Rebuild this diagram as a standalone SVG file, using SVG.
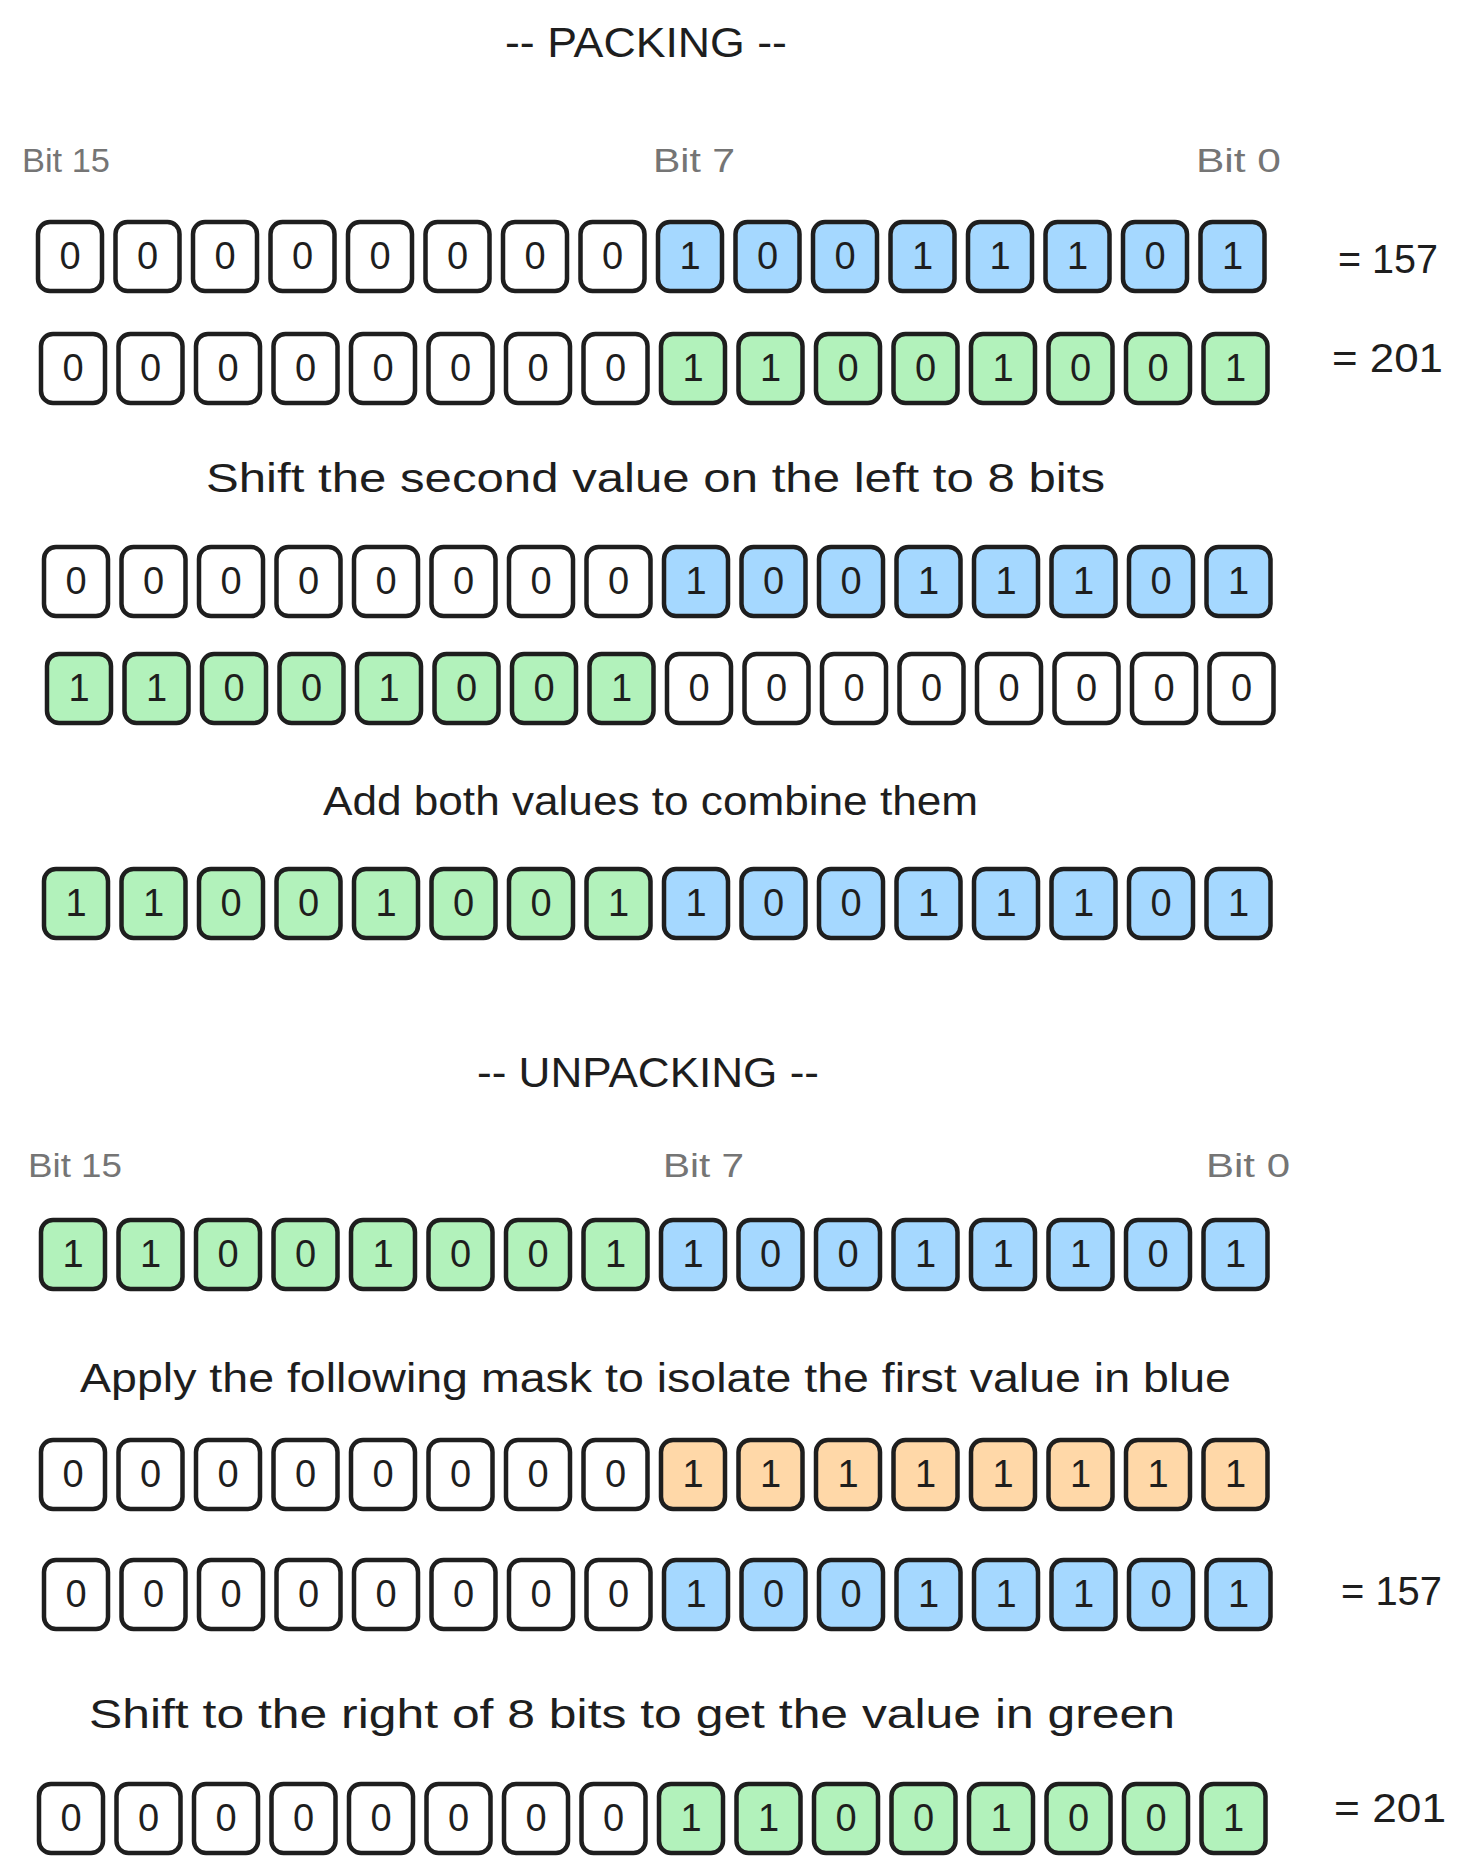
<svg xmlns="http://www.w3.org/2000/svg" width="1461" height="1874" viewBox="0 0 1461 1874">
<style>
text{font-family:"Liberation Sans",Arial,sans-serif;fill:#1e1e1e}
.cell rect{stroke:#1e1e1e;stroke-width:4.5}
.w{fill:#ffffff}.b{fill:#a5d8ff}.g{fill:#b2f2bb}.o{fill:#ffd8a8}
.cell text{font-size:38px;text-anchor:middle}
.h{font-size:42px}
.s{font-size:40px}
.bit{font-size:34px;fill:#757575}
.eq{font-size:40px}
</style>
<rect width="1461" height="1874" fill="#ffffff"/>
<g id="titles">
<text id="t-packing" class="h" x="505" y="57" textLength="282" lengthAdjust="spacingAndGlyphs">-- PACKING --</text>
<text id="t-unpacking" class="h" x="477" y="1087" textLength="342" lengthAdjust="spacingAndGlyphs">-- UNPACKING --</text>
<text id="t-shift1" class="s" x="206" y="492" textLength="899" lengthAdjust="spacingAndGlyphs">Shift the second value on the left to 8 bits</text>
<text id="t-add" class="s" x="323" y="815" textLength="655" lengthAdjust="spacingAndGlyphs">Add both values to combine them</text>
<text id="t-apply" class="s" x="80" y="1392" textLength="1151" lengthAdjust="spacingAndGlyphs">Apply the following mask to isolate the first value in blue</text>
<text id="t-shift2" class="s" x="89" y="1728" textLength="1086" lengthAdjust="spacingAndGlyphs">Shift to the right of 8 bits to get the value in green</text>
</g>
<g id="bit-labels">
<text class="bit" x="22" y="172" textLength="88" lengthAdjust="spacingAndGlyphs">Bit 15</text>
<text class="bit" x="653" y="172" textLength="82" lengthAdjust="spacingAndGlyphs">Bit 7</text>
<text class="bit" x="1196" y="172" textLength="85" lengthAdjust="spacingAndGlyphs">Bit 0</text>
<text class="bit" x="28" y="1177" textLength="94" lengthAdjust="spacingAndGlyphs">Bit 15</text>
<text class="bit" x="663" y="1177" textLength="81" lengthAdjust="spacingAndGlyphs">Bit 7</text>
<text class="bit" x="1206" y="1177" textLength="84" lengthAdjust="spacingAndGlyphs">Bit 0</text>
</g>
<g id="values">
<text class="eq" x="1338" y="273" textLength="100" lengthAdjust="spacingAndGlyphs">= 157</text>
<text class="eq" x="1332" y="372" textLength="111" lengthAdjust="spacingAndGlyphs">= 201</text>
<text class="eq" x="1341" y="1605" textLength="101" lengthAdjust="spacingAndGlyphs">= 157</text>
<text class="eq" x="1334" y="1822" textLength="112" lengthAdjust="spacingAndGlyphs">= 201</text>
</g>
<g id="connectors"></g>
<g id="row1" transform="translate(36 220)">
<g id="r1b15" class="cell" transform="translate(0 0)"><rect class="w" x="2" y="2" width="64" height="69" rx="12"/><text x="34" y="49">0</text></g>
<g id="r1b14" class="cell" transform="translate(77.5 0)"><rect class="w" x="2" y="2" width="64" height="69" rx="12"/><text x="34" y="49">0</text></g>
<g id="r1b13" class="cell" transform="translate(155 0)"><rect class="w" x="2" y="2" width="64" height="69" rx="12"/><text x="34" y="49">0</text></g>
<g id="r1b12" class="cell" transform="translate(232.5 0)"><rect class="w" x="2" y="2" width="64" height="69" rx="12"/><text x="34" y="49">0</text></g>
<g id="r1b11" class="cell" transform="translate(310 0)"><rect class="w" x="2" y="2" width="64" height="69" rx="12"/><text x="34" y="49">0</text></g>
<g id="r1b10" class="cell" transform="translate(387.5 0)"><rect class="w" x="2" y="2" width="64" height="69" rx="12"/><text x="34" y="49">0</text></g>
<g id="r1b9" class="cell" transform="translate(465 0)"><rect class="w" x="2" y="2" width="64" height="69" rx="12"/><text x="34" y="49">0</text></g>
<g id="r1b8" class="cell" transform="translate(542.5 0)"><rect class="w" x="2" y="2" width="64" height="69" rx="12"/><text x="34" y="49">0</text></g>
<g id="r1b7" class="cell" transform="translate(620 0)"><rect class="b" x="2" y="2" width="64" height="69" rx="12"/><text x="34" y="49">1</text></g>
<g id="r1b6" class="cell" transform="translate(697.5 0)"><rect class="b" x="2" y="2" width="64" height="69" rx="12"/><text x="34" y="49">0</text></g>
<g id="r1b5" class="cell" transform="translate(775 0)"><rect class="b" x="2" y="2" width="64" height="69" rx="12"/><text x="34" y="49">0</text></g>
<g id="r1b4" class="cell" transform="translate(852.5 0)"><rect class="b" x="2" y="2" width="64" height="69" rx="12"/><text x="34" y="49">1</text></g>
<g id="r1b3" class="cell" transform="translate(930 0)"><rect class="b" x="2" y="2" width="64" height="69" rx="12"/><text x="34" y="49">1</text></g>
<g id="r1b2" class="cell" transform="translate(1007.5 0)"><rect class="b" x="2" y="2" width="64" height="69" rx="12"/><text x="34" y="49">1</text></g>
<g id="r1b1" class="cell" transform="translate(1085 0)"><rect class="b" x="2" y="2" width="64" height="69" rx="12"/><text x="34" y="49">0</text></g>
<g id="r1b0" class="cell" transform="translate(1162.5 0)"><rect class="b" x="2" y="2" width="64" height="69" rx="12"/><text x="34" y="49">1</text></g>
</g>
<g id="row2" transform="translate(39 332)">
<g id="r2b15" class="cell" transform="translate(0 0)"><rect class="w" x="2" y="2" width="64" height="69" rx="12"/><text x="34" y="49">0</text></g>
<g id="r2b14" class="cell" transform="translate(77.5 0)"><rect class="w" x="2" y="2" width="64" height="69" rx="12"/><text x="34" y="49">0</text></g>
<g id="r2b13" class="cell" transform="translate(155 0)"><rect class="w" x="2" y="2" width="64" height="69" rx="12"/><text x="34" y="49">0</text></g>
<g id="r2b12" class="cell" transform="translate(232.5 0)"><rect class="w" x="2" y="2" width="64" height="69" rx="12"/><text x="34" y="49">0</text></g>
<g id="r2b11" class="cell" transform="translate(310 0)"><rect class="w" x="2" y="2" width="64" height="69" rx="12"/><text x="34" y="49">0</text></g>
<g id="r2b10" class="cell" transform="translate(387.5 0)"><rect class="w" x="2" y="2" width="64" height="69" rx="12"/><text x="34" y="49">0</text></g>
<g id="r2b9" class="cell" transform="translate(465 0)"><rect class="w" x="2" y="2" width="64" height="69" rx="12"/><text x="34" y="49">0</text></g>
<g id="r2b8" class="cell" transform="translate(542.5 0)"><rect class="w" x="2" y="2" width="64" height="69" rx="12"/><text x="34" y="49">0</text></g>
<g id="r2b7" class="cell" transform="translate(620 0)"><rect class="g" x="2" y="2" width="64" height="69" rx="12"/><text x="34" y="49">1</text></g>
<g id="r2b6" class="cell" transform="translate(697.5 0)"><rect class="g" x="2" y="2" width="64" height="69" rx="12"/><text x="34" y="49">1</text></g>
<g id="r2b5" class="cell" transform="translate(775 0)"><rect class="g" x="2" y="2" width="64" height="69" rx="12"/><text x="34" y="49">0</text></g>
<g id="r2b4" class="cell" transform="translate(852.5 0)"><rect class="g" x="2" y="2" width="64" height="69" rx="12"/><text x="34" y="49">0</text></g>
<g id="r2b3" class="cell" transform="translate(930 0)"><rect class="g" x="2" y="2" width="64" height="69" rx="12"/><text x="34" y="49">1</text></g>
<g id="r2b2" class="cell" transform="translate(1007.5 0)"><rect class="g" x="2" y="2" width="64" height="69" rx="12"/><text x="34" y="49">0</text></g>
<g id="r2b1" class="cell" transform="translate(1085 0)"><rect class="g" x="2" y="2" width="64" height="69" rx="12"/><text x="34" y="49">0</text></g>
<g id="r2b0" class="cell" transform="translate(1162.5 0)"><rect class="g" x="2" y="2" width="64" height="69" rx="12"/><text x="34" y="49">1</text></g>
</g>
<g id="row3" transform="translate(42 545)">
<g id="r3b15" class="cell" transform="translate(0 0)"><rect class="w" x="2" y="2" width="64" height="69" rx="12"/><text x="34" y="49">0</text></g>
<g id="r3b14" class="cell" transform="translate(77.5 0)"><rect class="w" x="2" y="2" width="64" height="69" rx="12"/><text x="34" y="49">0</text></g>
<g id="r3b13" class="cell" transform="translate(155 0)"><rect class="w" x="2" y="2" width="64" height="69" rx="12"/><text x="34" y="49">0</text></g>
<g id="r3b12" class="cell" transform="translate(232.5 0)"><rect class="w" x="2" y="2" width="64" height="69" rx="12"/><text x="34" y="49">0</text></g>
<g id="r3b11" class="cell" transform="translate(310 0)"><rect class="w" x="2" y="2" width="64" height="69" rx="12"/><text x="34" y="49">0</text></g>
<g id="r3b10" class="cell" transform="translate(387.5 0)"><rect class="w" x="2" y="2" width="64" height="69" rx="12"/><text x="34" y="49">0</text></g>
<g id="r3b9" class="cell" transform="translate(465 0)"><rect class="w" x="2" y="2" width="64" height="69" rx="12"/><text x="34" y="49">0</text></g>
<g id="r3b8" class="cell" transform="translate(542.5 0)"><rect class="w" x="2" y="2" width="64" height="69" rx="12"/><text x="34" y="49">0</text></g>
<g id="r3b7" class="cell" transform="translate(620 0)"><rect class="b" x="2" y="2" width="64" height="69" rx="12"/><text x="34" y="49">1</text></g>
<g id="r3b6" class="cell" transform="translate(697.5 0)"><rect class="b" x="2" y="2" width="64" height="69" rx="12"/><text x="34" y="49">0</text></g>
<g id="r3b5" class="cell" transform="translate(775 0)"><rect class="b" x="2" y="2" width="64" height="69" rx="12"/><text x="34" y="49">0</text></g>
<g id="r3b4" class="cell" transform="translate(852.5 0)"><rect class="b" x="2" y="2" width="64" height="69" rx="12"/><text x="34" y="49">1</text></g>
<g id="r3b3" class="cell" transform="translate(930 0)"><rect class="b" x="2" y="2" width="64" height="69" rx="12"/><text x="34" y="49">1</text></g>
<g id="r3b2" class="cell" transform="translate(1007.5 0)"><rect class="b" x="2" y="2" width="64" height="69" rx="12"/><text x="34" y="49">1</text></g>
<g id="r3b1" class="cell" transform="translate(1085 0)"><rect class="b" x="2" y="2" width="64" height="69" rx="12"/><text x="34" y="49">0</text></g>
<g id="r3b0" class="cell" transform="translate(1162.5 0)"><rect class="b" x="2" y="2" width="64" height="69" rx="12"/><text x="34" y="49">1</text></g>
</g>
<g id="row4" transform="translate(45 652)">
<g id="r4b15" class="cell" transform="translate(0 0)"><rect class="g" x="2" y="2" width="64" height="69" rx="12"/><text x="34" y="49">1</text></g>
<g id="r4b14" class="cell" transform="translate(77.5 0)"><rect class="g" x="2" y="2" width="64" height="69" rx="12"/><text x="34" y="49">1</text></g>
<g id="r4b13" class="cell" transform="translate(155 0)"><rect class="g" x="2" y="2" width="64" height="69" rx="12"/><text x="34" y="49">0</text></g>
<g id="r4b12" class="cell" transform="translate(232.5 0)"><rect class="g" x="2" y="2" width="64" height="69" rx="12"/><text x="34" y="49">0</text></g>
<g id="r4b11" class="cell" transform="translate(310 0)"><rect class="g" x="2" y="2" width="64" height="69" rx="12"/><text x="34" y="49">1</text></g>
<g id="r4b10" class="cell" transform="translate(387.5 0)"><rect class="g" x="2" y="2" width="64" height="69" rx="12"/><text x="34" y="49">0</text></g>
<g id="r4b9" class="cell" transform="translate(465 0)"><rect class="g" x="2" y="2" width="64" height="69" rx="12"/><text x="34" y="49">0</text></g>
<g id="r4b8" class="cell" transform="translate(542.5 0)"><rect class="g" x="2" y="2" width="64" height="69" rx="12"/><text x="34" y="49">1</text></g>
<g id="r4b7" class="cell" transform="translate(620 0)"><rect class="w" x="2" y="2" width="64" height="69" rx="12"/><text x="34" y="49">0</text></g>
<g id="r4b6" class="cell" transform="translate(697.5 0)"><rect class="w" x="2" y="2" width="64" height="69" rx="12"/><text x="34" y="49">0</text></g>
<g id="r4b5" class="cell" transform="translate(775 0)"><rect class="w" x="2" y="2" width="64" height="69" rx="12"/><text x="34" y="49">0</text></g>
<g id="r4b4" class="cell" transform="translate(852.5 0)"><rect class="w" x="2" y="2" width="64" height="69" rx="12"/><text x="34" y="49">0</text></g>
<g id="r4b3" class="cell" transform="translate(930 0)"><rect class="w" x="2" y="2" width="64" height="69" rx="12"/><text x="34" y="49">0</text></g>
<g id="r4b2" class="cell" transform="translate(1007.5 0)"><rect class="w" x="2" y="2" width="64" height="69" rx="12"/><text x="34" y="49">0</text></g>
<g id="r4b1" class="cell" transform="translate(1085 0)"><rect class="w" x="2" y="2" width="64" height="69" rx="12"/><text x="34" y="49">0</text></g>
<g id="r4b0" class="cell" transform="translate(1162.5 0)"><rect class="w" x="2" y="2" width="64" height="69" rx="12"/><text x="34" y="49">0</text></g>
</g>
<g id="row5" transform="translate(42 867)">
<g id="r5b15" class="cell" transform="translate(0 0)"><rect class="g" x="2" y="2" width="64" height="69" rx="12"/><text x="34" y="49">1</text></g>
<g id="r5b14" class="cell" transform="translate(77.5 0)"><rect class="g" x="2" y="2" width="64" height="69" rx="12"/><text x="34" y="49">1</text></g>
<g id="r5b13" class="cell" transform="translate(155 0)"><rect class="g" x="2" y="2" width="64" height="69" rx="12"/><text x="34" y="49">0</text></g>
<g id="r5b12" class="cell" transform="translate(232.5 0)"><rect class="g" x="2" y="2" width="64" height="69" rx="12"/><text x="34" y="49">0</text></g>
<g id="r5b11" class="cell" transform="translate(310 0)"><rect class="g" x="2" y="2" width="64" height="69" rx="12"/><text x="34" y="49">1</text></g>
<g id="r5b10" class="cell" transform="translate(387.5 0)"><rect class="g" x="2" y="2" width="64" height="69" rx="12"/><text x="34" y="49">0</text></g>
<g id="r5b9" class="cell" transform="translate(465 0)"><rect class="g" x="2" y="2" width="64" height="69" rx="12"/><text x="34" y="49">0</text></g>
<g id="r5b8" class="cell" transform="translate(542.5 0)"><rect class="g" x="2" y="2" width="64" height="69" rx="12"/><text x="34" y="49">1</text></g>
<g id="r5b7" class="cell" transform="translate(620 0)"><rect class="b" x="2" y="2" width="64" height="69" rx="12"/><text x="34" y="49">1</text></g>
<g id="r5b6" class="cell" transform="translate(697.5 0)"><rect class="b" x="2" y="2" width="64" height="69" rx="12"/><text x="34" y="49">0</text></g>
<g id="r5b5" class="cell" transform="translate(775 0)"><rect class="b" x="2" y="2" width="64" height="69" rx="12"/><text x="34" y="49">0</text></g>
<g id="r5b4" class="cell" transform="translate(852.5 0)"><rect class="b" x="2" y="2" width="64" height="69" rx="12"/><text x="34" y="49">1</text></g>
<g id="r5b3" class="cell" transform="translate(930 0)"><rect class="b" x="2" y="2" width="64" height="69" rx="12"/><text x="34" y="49">1</text></g>
<g id="r5b2" class="cell" transform="translate(1007.5 0)"><rect class="b" x="2" y="2" width="64" height="69" rx="12"/><text x="34" y="49">1</text></g>
<g id="r5b1" class="cell" transform="translate(1085 0)"><rect class="b" x="2" y="2" width="64" height="69" rx="12"/><text x="34" y="49">0</text></g>
<g id="r5b0" class="cell" transform="translate(1162.5 0)"><rect class="b" x="2" y="2" width="64" height="69" rx="12"/><text x="34" y="49">1</text></g>
</g>
<g id="row6" transform="translate(39 1218)">
<g id="r6b15" class="cell" transform="translate(0 0)"><rect class="g" x="2" y="2" width="64" height="69" rx="12"/><text x="34" y="49">1</text></g>
<g id="r6b14" class="cell" transform="translate(77.5 0)"><rect class="g" x="2" y="2" width="64" height="69" rx="12"/><text x="34" y="49">1</text></g>
<g id="r6b13" class="cell" transform="translate(155 0)"><rect class="g" x="2" y="2" width="64" height="69" rx="12"/><text x="34" y="49">0</text></g>
<g id="r6b12" class="cell" transform="translate(232.5 0)"><rect class="g" x="2" y="2" width="64" height="69" rx="12"/><text x="34" y="49">0</text></g>
<g id="r6b11" class="cell" transform="translate(310 0)"><rect class="g" x="2" y="2" width="64" height="69" rx="12"/><text x="34" y="49">1</text></g>
<g id="r6b10" class="cell" transform="translate(387.5 0)"><rect class="g" x="2" y="2" width="64" height="69" rx="12"/><text x="34" y="49">0</text></g>
<g id="r6b9" class="cell" transform="translate(465 0)"><rect class="g" x="2" y="2" width="64" height="69" rx="12"/><text x="34" y="49">0</text></g>
<g id="r6b8" class="cell" transform="translate(542.5 0)"><rect class="g" x="2" y="2" width="64" height="69" rx="12"/><text x="34" y="49">1</text></g>
<g id="r6b7" class="cell" transform="translate(620 0)"><rect class="b" x="2" y="2" width="64" height="69" rx="12"/><text x="34" y="49">1</text></g>
<g id="r6b6" class="cell" transform="translate(697.5 0)"><rect class="b" x="2" y="2" width="64" height="69" rx="12"/><text x="34" y="49">0</text></g>
<g id="r6b5" class="cell" transform="translate(775 0)"><rect class="b" x="2" y="2" width="64" height="69" rx="12"/><text x="34" y="49">0</text></g>
<g id="r6b4" class="cell" transform="translate(852.5 0)"><rect class="b" x="2" y="2" width="64" height="69" rx="12"/><text x="34" y="49">1</text></g>
<g id="r6b3" class="cell" transform="translate(930 0)"><rect class="b" x="2" y="2" width="64" height="69" rx="12"/><text x="34" y="49">1</text></g>
<g id="r6b2" class="cell" transform="translate(1007.5 0)"><rect class="b" x="2" y="2" width="64" height="69" rx="12"/><text x="34" y="49">1</text></g>
<g id="r6b1" class="cell" transform="translate(1085 0)"><rect class="b" x="2" y="2" width="64" height="69" rx="12"/><text x="34" y="49">0</text></g>
<g id="r6b0" class="cell" transform="translate(1162.5 0)"><rect class="b" x="2" y="2" width="64" height="69" rx="12"/><text x="34" y="49">1</text></g>
</g>
<g id="row7" transform="translate(39 1438)">
<g id="r7b15" class="cell" transform="translate(0 0)"><rect class="w" x="2" y="2" width="64" height="69" rx="12"/><text x="34" y="49">0</text></g>
<g id="r7b14" class="cell" transform="translate(77.5 0)"><rect class="w" x="2" y="2" width="64" height="69" rx="12"/><text x="34" y="49">0</text></g>
<g id="r7b13" class="cell" transform="translate(155 0)"><rect class="w" x="2" y="2" width="64" height="69" rx="12"/><text x="34" y="49">0</text></g>
<g id="r7b12" class="cell" transform="translate(232.5 0)"><rect class="w" x="2" y="2" width="64" height="69" rx="12"/><text x="34" y="49">0</text></g>
<g id="r7b11" class="cell" transform="translate(310 0)"><rect class="w" x="2" y="2" width="64" height="69" rx="12"/><text x="34" y="49">0</text></g>
<g id="r7b10" class="cell" transform="translate(387.5 0)"><rect class="w" x="2" y="2" width="64" height="69" rx="12"/><text x="34" y="49">0</text></g>
<g id="r7b9" class="cell" transform="translate(465 0)"><rect class="w" x="2" y="2" width="64" height="69" rx="12"/><text x="34" y="49">0</text></g>
<g id="r7b8" class="cell" transform="translate(542.5 0)"><rect class="w" x="2" y="2" width="64" height="69" rx="12"/><text x="34" y="49">0</text></g>
<g id="r7b7" class="cell" transform="translate(620 0)"><rect class="o" x="2" y="2" width="64" height="69" rx="12"/><text x="34" y="49">1</text></g>
<g id="r7b6" class="cell" transform="translate(697.5 0)"><rect class="o" x="2" y="2" width="64" height="69" rx="12"/><text x="34" y="49">1</text></g>
<g id="r7b5" class="cell" transform="translate(775 0)"><rect class="o" x="2" y="2" width="64" height="69" rx="12"/><text x="34" y="49">1</text></g>
<g id="r7b4" class="cell" transform="translate(852.5 0)"><rect class="o" x="2" y="2" width="64" height="69" rx="12"/><text x="34" y="49">1</text></g>
<g id="r7b3" class="cell" transform="translate(930 0)"><rect class="o" x="2" y="2" width="64" height="69" rx="12"/><text x="34" y="49">1</text></g>
<g id="r7b2" class="cell" transform="translate(1007.5 0)"><rect class="o" x="2" y="2" width="64" height="69" rx="12"/><text x="34" y="49">1</text></g>
<g id="r7b1" class="cell" transform="translate(1085 0)"><rect class="o" x="2" y="2" width="64" height="69" rx="12"/><text x="34" y="49">1</text></g>
<g id="r7b0" class="cell" transform="translate(1162.5 0)"><rect class="o" x="2" y="2" width="64" height="69" rx="12"/><text x="34" y="49">1</text></g>
</g>
<g id="row8" transform="translate(42 1558)">
<g id="r8b15" class="cell" transform="translate(0 0)"><rect class="w" x="2" y="2" width="64" height="69" rx="12"/><text x="34" y="49">0</text></g>
<g id="r8b14" class="cell" transform="translate(77.5 0)"><rect class="w" x="2" y="2" width="64" height="69" rx="12"/><text x="34" y="49">0</text></g>
<g id="r8b13" class="cell" transform="translate(155 0)"><rect class="w" x="2" y="2" width="64" height="69" rx="12"/><text x="34" y="49">0</text></g>
<g id="r8b12" class="cell" transform="translate(232.5 0)"><rect class="w" x="2" y="2" width="64" height="69" rx="12"/><text x="34" y="49">0</text></g>
<g id="r8b11" class="cell" transform="translate(310 0)"><rect class="w" x="2" y="2" width="64" height="69" rx="12"/><text x="34" y="49">0</text></g>
<g id="r8b10" class="cell" transform="translate(387.5 0)"><rect class="w" x="2" y="2" width="64" height="69" rx="12"/><text x="34" y="49">0</text></g>
<g id="r8b9" class="cell" transform="translate(465 0)"><rect class="w" x="2" y="2" width="64" height="69" rx="12"/><text x="34" y="49">0</text></g>
<g id="r8b8" class="cell" transform="translate(542.5 0)"><rect class="w" x="2" y="2" width="64" height="69" rx="12"/><text x="34" y="49">0</text></g>
<g id="r8b7" class="cell" transform="translate(620 0)"><rect class="b" x="2" y="2" width="64" height="69" rx="12"/><text x="34" y="49">1</text></g>
<g id="r8b6" class="cell" transform="translate(697.5 0)"><rect class="b" x="2" y="2" width="64" height="69" rx="12"/><text x="34" y="49">0</text></g>
<g id="r8b5" class="cell" transform="translate(775 0)"><rect class="b" x="2" y="2" width="64" height="69" rx="12"/><text x="34" y="49">0</text></g>
<g id="r8b4" class="cell" transform="translate(852.5 0)"><rect class="b" x="2" y="2" width="64" height="69" rx="12"/><text x="34" y="49">1</text></g>
<g id="r8b3" class="cell" transform="translate(930 0)"><rect class="b" x="2" y="2" width="64" height="69" rx="12"/><text x="34" y="49">1</text></g>
<g id="r8b2" class="cell" transform="translate(1007.5 0)"><rect class="b" x="2" y="2" width="64" height="69" rx="12"/><text x="34" y="49">1</text></g>
<g id="r8b1" class="cell" transform="translate(1085 0)"><rect class="b" x="2" y="2" width="64" height="69" rx="12"/><text x="34" y="49">0</text></g>
<g id="r8b0" class="cell" transform="translate(1162.5 0)"><rect class="b" x="2" y="2" width="64" height="69" rx="12"/><text x="34" y="49">1</text></g>
</g>
<g id="row9" transform="translate(37 1782)">
<g id="r9b15" class="cell" transform="translate(0 0)"><rect class="w" x="2" y="2" width="64" height="69" rx="12"/><text x="34" y="49">0</text></g>
<g id="r9b14" class="cell" transform="translate(77.5 0)"><rect class="w" x="2" y="2" width="64" height="69" rx="12"/><text x="34" y="49">0</text></g>
<g id="r9b13" class="cell" transform="translate(155 0)"><rect class="w" x="2" y="2" width="64" height="69" rx="12"/><text x="34" y="49">0</text></g>
<g id="r9b12" class="cell" transform="translate(232.5 0)"><rect class="w" x="2" y="2" width="64" height="69" rx="12"/><text x="34" y="49">0</text></g>
<g id="r9b11" class="cell" transform="translate(310 0)"><rect class="w" x="2" y="2" width="64" height="69" rx="12"/><text x="34" y="49">0</text></g>
<g id="r9b10" class="cell" transform="translate(387.5 0)"><rect class="w" x="2" y="2" width="64" height="69" rx="12"/><text x="34" y="49">0</text></g>
<g id="r9b9" class="cell" transform="translate(465 0)"><rect class="w" x="2" y="2" width="64" height="69" rx="12"/><text x="34" y="49">0</text></g>
<g id="r9b8" class="cell" transform="translate(542.5 0)"><rect class="w" x="2" y="2" width="64" height="69" rx="12"/><text x="34" y="49">0</text></g>
<g id="r9b7" class="cell" transform="translate(620 0)"><rect class="g" x="2" y="2" width="64" height="69" rx="12"/><text x="34" y="49">1</text></g>
<g id="r9b6" class="cell" transform="translate(697.5 0)"><rect class="g" x="2" y="2" width="64" height="69" rx="12"/><text x="34" y="49">1</text></g>
<g id="r9b5" class="cell" transform="translate(775 0)"><rect class="g" x="2" y="2" width="64" height="69" rx="12"/><text x="34" y="49">0</text></g>
<g id="r9b4" class="cell" transform="translate(852.5 0)"><rect class="g" x="2" y="2" width="64" height="69" rx="12"/><text x="34" y="49">0</text></g>
<g id="r9b3" class="cell" transform="translate(930 0)"><rect class="g" x="2" y="2" width="64" height="69" rx="12"/><text x="34" y="49">1</text></g>
<g id="r9b2" class="cell" transform="translate(1007.5 0)"><rect class="g" x="2" y="2" width="64" height="69" rx="12"/><text x="34" y="49">0</text></g>
<g id="r9b1" class="cell" transform="translate(1085 0)"><rect class="g" x="2" y="2" width="64" height="69" rx="12"/><text x="34" y="49">0</text></g>
<g id="r9b0" class="cell" transform="translate(1162.5 0)"><rect class="g" x="2" y="2" width="64" height="69" rx="12"/><text x="34" y="49">1</text></g>
</g>
</svg>
